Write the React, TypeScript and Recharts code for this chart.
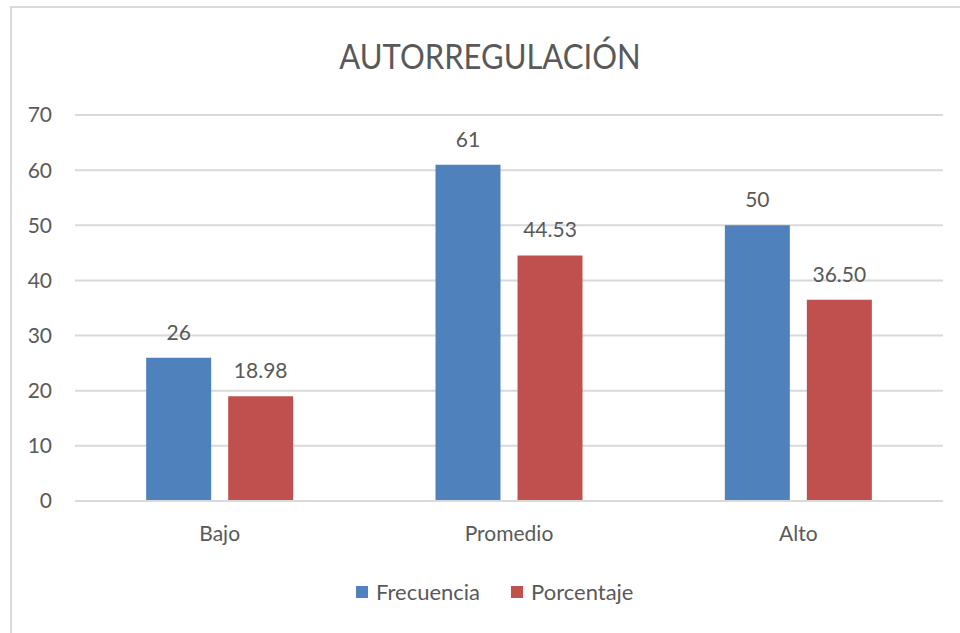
import React from 'react';
import { BarChart, Bar, XAxis, YAxis, CartesianGrid, Legend, LabelList } from 'recharts';

const categories = ['Bajo', 'Promedio', 'Alto'];
const frecuencia = [26, 61, 50];
const porcentaje = [18.98, 44.53, 36.5];
const yTicks = [0, 10, 20, 30, 40, 50, 60, 70];

const data = categories.map((c, i) => ({ name: c, Frecuencia: frecuencia[i], Porcentaje: porcentaje[i] }));

const TEXT = '#595959';
const FONT = 'Lato, "Open Sans", sans-serif';
const BLUE = '#4F81BD';
const RED = '#C0504D';

const LegendContent = () => (
  <div style={{ display: 'flex', alignItems: 'center', fontFamily: FONT, fontSize: 22, color: TEXT }}>
    <span style={{ display: 'inline-block', width: 12, height: 12, background: BLUE, marginRight: 8 }} />
    <span style={{ marginRight: 31 }}>Frecuencia</span>
    <span style={{ display: 'inline-block', width: 12, height: 12, background: RED, marginRight: 8 }} />
    <span>Porcentaje</span>
  </div>
);

export default function App() {
  return (
    <div style={{ position: 'absolute', left: 0, top: 0, width: 960, height: 633, overflow: 'hidden', background: '#fff' }}>
      <div style={{ position: 'absolute', left: 10, top: 6, width: 970, height: 660, border: '2px solid #D9D9D9', boxSizing: 'border-box' }} />
      <div style={{ position: 'absolute', left: 0, top: 35, width: 980, textAlign: 'center', fontFamily: FONT, fontWeight: 400, fontSize: 31, color: TEXT, transform: 'scaleY(1.12)', transformOrigin: 'center top', lineHeight: '36px' }}>
        AUTORREGULACIÓN
      </div>
      <div style={{ position: 'absolute', left: 0, top: 0 }}>
        <BarChart
          width={960}
          height={633}
          data={data}
          margin={{ top: 115, right: 17, left: 10, bottom: 92 }}
          barCategoryGap="24.6%"
          barGap={17}
        >
          <CartesianGrid vertical={false} stroke="#D9D9D9" strokeWidth={2} />
          <XAxis
            dataKey="name"
            height={40}
            axisLine={{ stroke: '#D9D9D9', strokeWidth: 2 }}
            tickLine={false}
            tickSize={0}
            tickMargin={25}
            tick={{ fill: TEXT, fontSize: 21, fontFamily: FONT }}
          />
          <YAxis
            width={65}
            domain={[0, 70]}
            ticks={yTicks}
            axisLine={false}
            tickLine={false}
            tickSize={0}
            tickMargin={23}
            tick={{ fill: TEXT, fontSize: 21, fontFamily: FONT }}
          />
          <Legend verticalAlign="middle" layout="horizontal" content={<LegendContent />} wrapperStyle={{ top: 578, left: 356, width: 'auto' }} />
          <Bar dataKey="Frecuencia" fill={BLUE} isAnimationActive={false}>
            <LabelList dataKey="Frecuencia" position="top" offset={18} fill={TEXT} fontSize={21} fontFamily={FONT} formatter={(v: any) => String(v)} />
          </Bar>
          <Bar dataKey="Porcentaje" fill={RED} isAnimationActive={false}>
            <LabelList dataKey="Porcentaje" position="top" offset={18} fill={TEXT} fontSize={21} fontFamily={FONT} formatter={(v: any) => Number(v).toFixed(2)} />
          </Bar>
        </BarChart>
      </div>
    </div>
  );
}
